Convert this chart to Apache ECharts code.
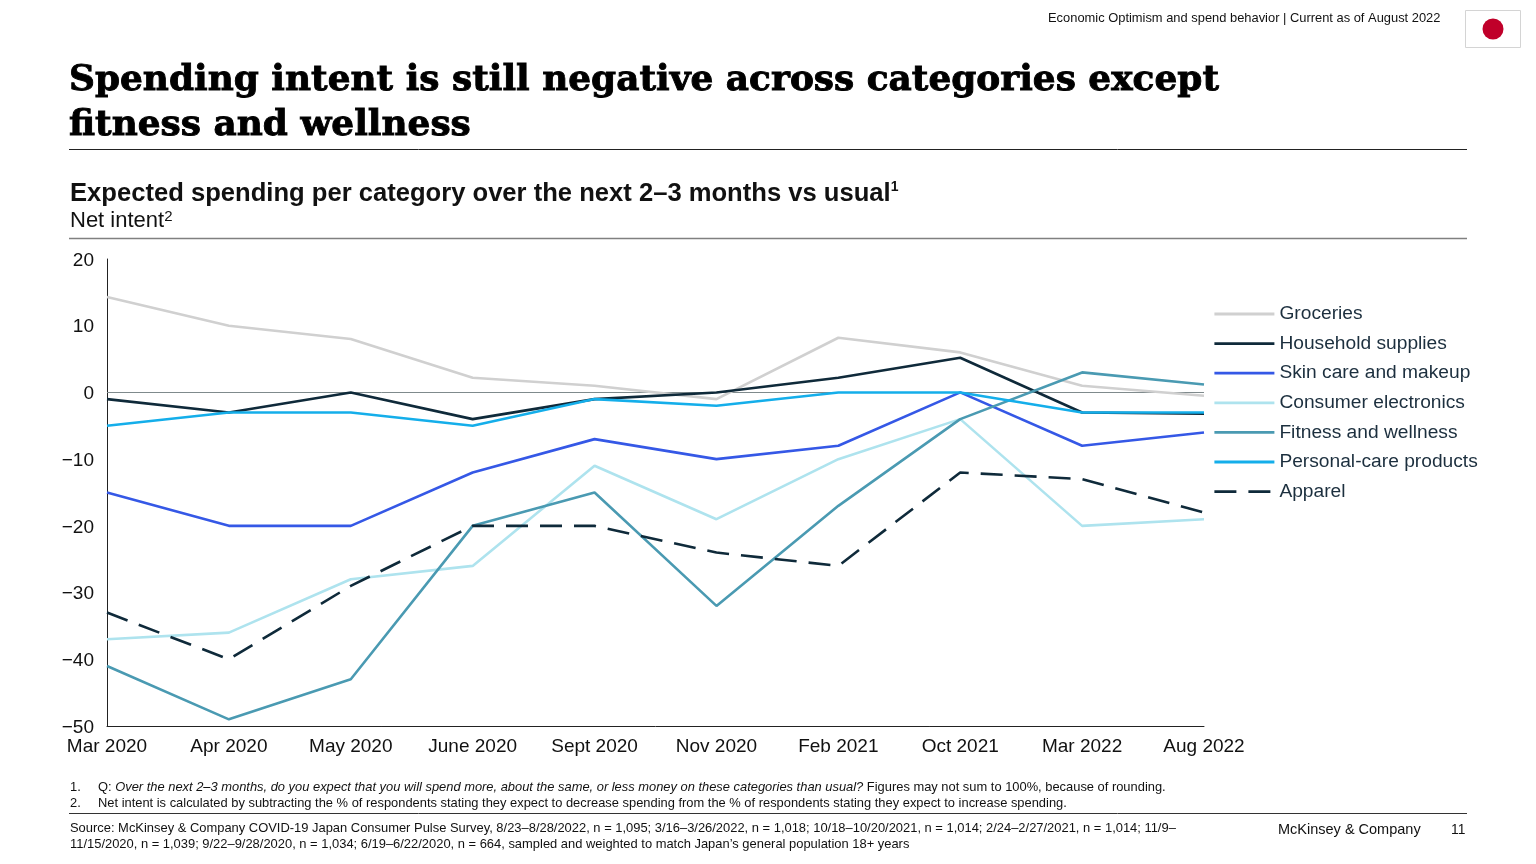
<!DOCTYPE html>
<html><head><meta charset="utf-8">
<style>html,body{margin:0;padding:0;background:#fff}#c{width:1536px;height:864px}</style>
<script src="https://cdn.jsdelivr.net/npm/echarts@6/dist/echarts.min.js"></script>
</head><body><div id="c"></div>
<script>
const categories = ['Mar 2020','Apr 2020','May 2020','June 2020','Sept 2020','Nov 2020','Feb 2021','Oct 2021','Mar 2022','Aug 2022'];
const groceries = [14.3,10,8,2.2,1,-1,8.2,6,1,-0.5];
const household = [-1,-3,0,-4,-1,0,2.2,5.2,-3,-3.2];
const skinCare = [-15,-20,-20,-12,-7,-10,-8,0,-8,-6];
const electronics = [-37,-36,-28,-26,-11,-19,-10,-4,-20,-19];
const fitness = [-41,-49,-43,-20,-15,-32,-17,-4,3,1.2];
const personalCare = [-5,-3,-3,-5,-1,-2,0,0,-3,-3];
const apparel = [-33,-40,-29,-20,-20,-24,-26,-12,-13,-18];
const seriesNames = ['Groceries','Household supplies','Skin care and makeup','Consumer electronics','Fitness and wellness','Personal-care products','Apparel'];
const seriesColors = ['#d0d0d0','#0f2a3a','#3558e6','#aee3ee','#4a9ab2','#14aeea','#0f2a3a'];
const seriesValues = [groceries,household,skinCare,electronics,fitness,personalCare,apparel];
const titleLines = ['Spending intent is still negative across categories except','fitness and wellness'];
const headerNote = 'Economic Optimism and spend behavior | Current as of August 2022';
const subtitle = 'Expected spending per category over the next 2–3 months vs usual';
const footnote1a = 'Over the next 2–3 months, do you expect that you will spend more, about the same, or less money on these categories than usual?';
const footnote1b = ' Figures may not sum to 100%, because of rounding.';
const footnote2 = 'Net intent is calculated by subtracting the % of respondents stating they expect to decrease spending from the % of respondents stating they expect to increase spending.';
const source1 = 'Source: McKinsey & Company COVID-19 Japan Consumer Pulse Survey, 8/23–8/28/2022, n = 1,095; 3/16–3/26/2022, n = 1,018; 10/18–10/20/2021, n = 1,014; 2/24–2/27/2021, n = 1,014; 11/9–';
const source2 = '11/15/2020, n = 1,039; 9/22–9/28/2020, n = 1,034; 6/19–6/22/2020, n = 664, sampled and weighted to match Japan’s general population 18+ years';

const SANS = '"Liberation Sans", Arial, sans-serif';
const INK = '#111111';
const txt = (x,y,text,size,extra={}) => ({type:'text',x,y,silent:true,style:Object.assign({text,fontFamily:SANS,fontSize:size,fill:INK,textVerticalAlign:'middle'},extra)});
const rule = (y,color,w=1) => ({type:'line',silent:true,shape:{x1:69,y1:y,x2:1467,y2:y},style:{stroke:color,lineWidth:w}});
const titleStyle = {fontFamily:'"DejaVu Serif",serif',fontWeight:'bold',fill:'#000',stroke:'#000',lineWidth:0.9};

const chart = echarts.init(document.getElementById('c'),null,{renderer:'canvas'});
chart.setOption({
  animation:false,
  backgroundColor:'#fff',
  grid:{left:107,top:259,width:1097,height:467,containLabel:false},
  legend:{
    orient:'vertical',left:1208,top:299.5,itemWidth:60,itemHeight:14,itemGap:10.6,
    data:seriesNames,selectedMode:false,
    lineStyle:{width:2.8},
    textStyle:{fontFamily:SANS,fontSize:19.2,color:'#1c2f3e'},
    itemStyle:{opacity:0}
  },
  xAxis:{type:'category',data:categories,boundaryGap:false,
    axisLine:{onZero:false,lineStyle:{color:'#222',width:1}},axisTick:{show:false},
    axisLabel:{fontFamily:SANS,fontSize:19,color:INK,margin:11,interval:0}},
  yAxis:{type:'value',min:-50,max:20,interval:10,splitLine:{show:false},
    axisLine:{show:true,lineStyle:{color:'#222',width:1}},axisTick:{show:false},
    axisLabel:{fontFamily:SANS,fontSize:19,color:INK,margin:13,verticalAlign:'top',lineHeight:3,
      formatter:v=>v<0?'−'+Math.abs(v):String(v)}},
  series:seriesNames.map((name,i)=>({
    name,type:'line',data:seriesValues[i],symbol:'none',smooth:false,z:3,
    lineStyle:{color:seriesColors[i],width:2.6,type:name==='Apparel'?[22,12]:'solid'},
    itemStyle:{color:seriesColors[i]},
    markLine:i===0?{silent:true,symbol:'none',z:1,label:{show:false},
      lineStyle:{color:'#7f8a8c',width:1,type:'solid'},data:[{yAxis:0}]}:undefined
  })),
  graphic:[
    txt(1048,18,headerNote,12.9),
    {type:'rect',silent:true,shape:{x:1465.5,y:10.5,width:55,height:37},style:{fill:'#fff',stroke:'#d4d4d4',lineWidth:1}},
    {type:'circle',silent:true,shape:{cx:1493,cy:29,r:10.5},style:{fill:'#c0002a'}},
    txt(69,81,titleLines[0],35.9,titleStyle),
    txt(69,126,titleLines[1],35.9,titleStyle),
    rule(149.5,'#222'),
    {type:'text',x:70,y:193.5,silent:true,style:{
      rich:{b:{fontFamily:SANS,fontSize:25.6,fontWeight:'bold',fill:INK},s:{fontFamily:SANS,fontSize:14,fontWeight:'bold',fill:INK,verticalAlign:'top',padding:[0,0,10,0]}},
      text:'{b|'+subtitle+'}{s|1}',textVerticalAlign:'middle'}},
    {type:'text',x:70,y:221,silent:true,style:{
      rich:{n:{fontFamily:SANS,fontSize:22,fill:INK},s:{fontFamily:SANS,fontSize:15,fill:INK,verticalAlign:'top',padding:[0,0,8,0]}},
      text:'{n|Net intent}{s|2}',textVerticalAlign:'middle'}},
    rule(238.5,'#808080',1.5),
    txt(70,787,'1.',12.9),
    {type:'text',x:98,y:787,silent:true,style:{
      rich:{n:{fontFamily:SANS,fontSize:12.9,fill:INK},i:{fontFamily:SANS,fontSize:12.9,fontStyle:'italic',fill:INK}},
      text:'{n|Q: }{i|'+footnote1a+'}{n|'+footnote1b+'}',textVerticalAlign:'middle'}},
    txt(70,803,'2.',12.9),
    txt(98,803,footnote2,12.9),
    rule(813.5,'#333'),
    txt(70,828,source1,12.93),
    txt(70,844,source2,12.93),
    txt(1278,830,'McKinsey & Company',14.5),
    txt(1451,830,'11',13.8)
  ]
});
</script></body></html>
